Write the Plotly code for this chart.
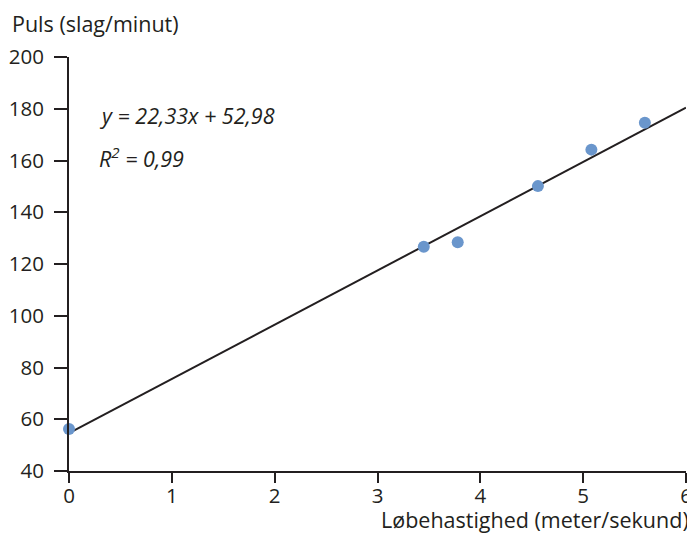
import plotly.graph_objects as go

# Data
speed = [0.0, 3.45, 3.78, 4.56, 5.08, 5.60]
pulse = [56.2, 126.7, 128.4, 150.1, 164.2, 174.6]
trend_x = [0.0, 6.0]
trend_y = [54.6, 180.4]
x_ticks = [0, 1, 2, 3, 4, 5, 6]
y_ticks = [40, 60, 80, 100, 120, 140, 160, 180, 200]
equation = "y = 22,33x + 52,98"
r2 = "R<sup>2</sup> = 0,99"
x_title = "Løbehastighed (meter/sekund)"
y_title = "Puls (slag/minut)"

ink = "#231f20"
font = "Open Sans"
fs_tick = 20.5
fs_title = 21.5

fig = go.Figure()
fig.add_trace(go.Scatter(x=trend_x, y=trend_y, mode="lines",
                         line=dict(color=ink, width=2), cliponaxis=False,
                         showlegend=False, hoverinfo="skip"))
fig.add_trace(go.Scatter(x=speed, y=pulse, mode="markers",
                         marker=dict(color="#6a96cc", size=12),
                         cliponaxis=False, showlegend=False))

axis_common = dict(showline=True, linecolor=ink, linewidth=2, ticks="outside",
                   tickcolor=ink, tickwidth=2, showgrid=False, automargin=False,
                   zeroline=False, tickfont=dict(family=font, size=fs_tick, color=ink))

fig.update_xaxes(range=[0, 6], tickvals=x_ticks, ticklen=10, ticklabelstandoff=-5, **axis_common)
fig.update_yaxes(range=[40, 200], tickvals=y_ticks, ticklen=13, ticklabelstandoff=6, **axis_common)

PW, PH = 617, 414
L, T = 61, 49  # plot-area origin inside the figure (page has 8px body margin)

def px(xp):
    return (xp - 8 - L) / PW

def py(yp):
    return (T + PH - (yp - 8)) / PH

fig.add_annotation(text=equation, xref="paper", yref="paper", x=px(97), y=py(116),
                   xanchor="left", yanchor="middle", showarrow=False,
                   font=dict(family=font, size=fs_title, color=ink, style="italic"))
fig.add_annotation(text=r2, xref="paper", yref="paper", x=px(97), y=py(157),
                   xanchor="left", yanchor="middle", showarrow=False,
                   font=dict(family=font, size=fs_title, color=ink, style="italic"))
fig.add_annotation(text=y_title, xref="paper", yref="paper", x=px(10), y=py(23),
                   xanchor="left", yanchor="middle", showarrow=False,
                   font=dict(family=font, size=fs_title, color=ink))
fig.add_annotation(text=x_title, xref="paper", yref="paper", x=px(691), y=py(519),
                   xanchor="right", yanchor="middle", showarrow=False,
                   font=dict(family=font, size=fs_title, color=ink))

fig.update_layout(width=687, height=526, margin=dict(l=L, r=9, t=T, b=63),
                  plot_bgcolor="white", paper_bgcolor="white",
                  font=dict(family=font, color=ink))

fig.write_html("out.html")
